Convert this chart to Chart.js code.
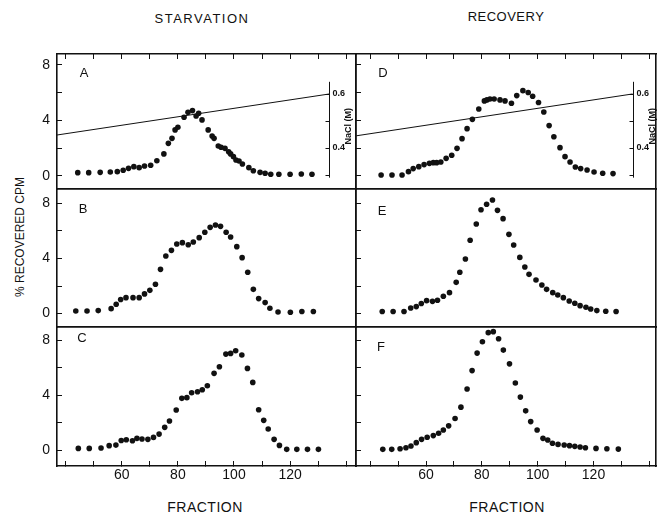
<!DOCTYPE html>
<html>
<head>
<meta charset="utf-8">
<script src="https://cdn.jsdelivr.net/npm/chart.js@4"></script>
<style>
  body { margin: 0; background: #fff; width: 663px; height: 516px; position: relative; overflow: hidden;
         font-family: "Liberation Sans", Arial, sans-serif; color: #111; }
  .lbl { position: absolute; white-space: nowrap; transform: translate(-50%, -50%); }
  canvas { position: absolute; }
</style>
</head>
<body>
<div class="lbl" style="left:202px;top:18px;font-size:13px;letter-spacing:1.5px">STARVATION</div>
<div class="lbl" style="left:506px;top:16px;font-size:13px;letter-spacing:0.5px">RECOVERY</div>
<div class="lbl" style="left:205px;top:507px;font-size:14px;letter-spacing:0.5px">FRACTION</div>
<div class="lbl" style="left:507px;top:507px;font-size:14px;letter-spacing:0.5px">FRACTION</div>
<div class="lbl" style="left:20px;top:237px;font-size:12px;transform:translate(-50%,-50%) rotate(-90deg)">% RECOVERED CPM</div>

<script>
// fractions and % recovered cpm
var fracA = [44.3,48.2,52.3,55.9,58.4,60.5,62.4,64.3,66.2,68.1,70.3,72.5,75.0,76.6,77.9,79.0,80.0,82.2,83.6,85.2,86.5,87.4,88.6,90.8,92.2,92.9,94.4,95.4,96.8,98.1,98.8,99.8,100.7,101.8,103.0,105.3,106.9,109.3,111.1,113.1,116.0,120.0,124.0,127.8];
var cpmA  = [0.24,0.24,0.26,0.29,0.31,0.41,0.55,0.67,0.60,0.72,0.77,1.10,1.59,2.35,2.71,3.32,3.51,4.23,4.59,4.71,4.32,4.52,4.04,3.32,2.88,2.71,2.16,2.07,1.99,1.75,1.59,1.39,1.15,1.08,0.86,0.60,0.38,0.26,0.19,0.12,0.12,0.12,0.14,0.12];

var fracB = [43.6,47.6,51.6,56.2,58.0,59.6,61.5,64.0,66.2,68.1,70.0,72.0,73.8,75.7,77.7,79.6,81.6,83.7,85.5,87.6,89.6,91.5,93.4,95.2,97.2,98.8,101.0,102.9,104.9,106.9,108.8,111.1,112.8,115.7,120.1,124.2,128.3];
var cpmB  = [0.19,0.19,0.22,0.36,0.68,1.02,1.16,1.16,1.16,1.43,1.69,2.13,3.21,4.18,4.59,5.05,5.15,5.00,5.20,5.51,5.90,6.26,6.43,6.33,5.90,5.56,4.86,4.06,3.00,1.76,1.09,0.80,0.39,0.12,0.10,0.15,0.15];

var fracC = [44.5,48.4,52.6,55.5,57.9,59.8,61.6,63.8,65.4,67.2,69.3,71.3,73.3,75.3,77.0,79.4,81.4,83.2,84.9,87.0,88.7,90.5,92.9,94.8,97.1,98.8,100.6,102.8,104.8,106.7,108.8,110.6,112.2,114.3,116.2,118.8,122.4,126.2,130.1];
var cpmC  = [0.12,0.12,0.15,0.32,0.36,0.70,0.75,0.68,0.85,0.80,0.78,0.92,1.16,1.65,2.11,2.91,3.76,3.81,4.17,4.24,4.39,4.68,5.58,6.06,6.98,7.03,7.22,6.91,5.94,4.92,2.93,2.16,1.53,0.78,0.34,0.05,0.05,0.05,0.05];

var fracD = [43.9,47.8,51.4,53.7,55.4,57.4,59.3,61.2,62.6,63.8,65.3,67.2,69.2,71.1,72.9,74.7,76.6,78.9,80.9,81.8,82.9,84.4,86.5,88.3,90.6,92.5,94.7,96.6,98.2,100.3,102.2,104.1,105.8,108.0,109.8,111.6,113.5,115.4,117.7,120.2,123.3,127.0];
var cpmD  = [0.07,0.07,0.07,0.31,0.53,0.67,0.82,0.91,0.96,0.96,1.01,1.27,1.49,1.99,2.69,3.41,4.08,4.83,5.41,5.48,5.55,5.55,5.48,5.41,5.24,5.79,6.15,6.01,5.74,5.29,4.61,3.63,2.83,2.04,1.39,1.01,0.65,0.53,0.43,0.29,0.19,0.17];

var fracE = [44.3,48.2,52.1,54.5,56.5,58.3,60.2,62.3,64.1,66.2,68.4,70.8,72.1,74.1,75.8,78.0,79.7,81.7,83.8,85.6,87.6,89.7,91.4,93.6,95.4,96.9,99.4,101.5,103.2,105.4,107.2,109.2,111.3,113.3,115.2,117.3,119.0,121.2,124.4,128.1];
var cpmE  = [0.15,0.15,0.15,0.41,0.51,0.73,0.94,0.89,0.97,1.26,1.52,2.27,3.00,3.96,5.32,6.50,7.54,7.93,8.24,7.49,6.89,5.75,4.98,4.08,3.38,2.85,2.44,2.08,1.76,1.52,1.35,1.16,0.92,0.75,0.58,0.46,0.34,0.22,0.17,0.15];

var fracF = [44.5,47.7,50.7,52.8,54.6,56.5,58.4,60.4,62.6,64.5,66.2,68.1,70.4,72.5,74.7,76.5,78.3,80.2,82.3,84.1,86.0,87.7,89.9,92.0,93.8,95.7,97.5,99.8,101.9,103.6,105.3,107.3,109.5,111.4,113.3,115.2,117.1,120.9,124.8,128.9];
var cpmF  = [0.05,0.05,0.10,0.17,0.29,0.54,0.78,0.93,1.05,1.22,1.46,1.76,2.29,3.12,4.44,5.78,7.05,7.88,8.54,8.61,8.10,7.27,6.27,4.88,3.85,2.85,2.07,1.46,0.85,0.73,0.49,0.41,0.37,0.32,0.27,0.22,0.17,0.12,0.10,0.07];

// NaCl gradient (M) in panels A and D
var naclFrac = [35, 134];
var naclConc = [0.445, 0.6];
var naclTicks = [0.3, 0.4, 0.5, 0.6];
var naclLabels = [0.4, 0.6];
var naclAxisAt = 134;

// tick labels
var xLabels = [60, 80, 100, 120];
var yLabels = [0, 4, 8];

var INK = '#111';
Chart.defaults.font.family = '"Liberation Sans", Arial, sans-serif';
Chart.defaults.color = INK;

// plot boxes in page pixels
var colX = [[57, 356], [356, 656]];
var rowY = [[54, 189], [189, 327], [327, 466]];
var xRange = [[36.9, 143.5], [34.9, 142.4]];
var yRange = [[-0.94, 8.79], [-0.97, 9.04], [-1.16, 8.95]];

var panels = [
  { letter: 'A', frac: fracA, cpm: cpmA, col: 0, row: 0, dx: 27, dy: 19, nacl: true },
  { letter: 'B', frac: fracB, cpm: cpmB, col: 0, row: 1, dx: 26, dy: 20 },
  { letter: 'C', frac: fracC, cpm: cpmC, col: 0, row: 2, dx: 25, dy: 11 },
  { letter: 'D', frac: fracD, cpm: cpmD, col: 1, row: 0, dx: 27, dy: 19, nacl: true },
  { letter: 'E', frac: fracE, cpm: cpmE, col: 1, row: 1, dx: 26, dy: 22 },
  { letter: 'F', frac: fracF, cpm: cpmF, col: 1, row: 2, dx: 25, dy: 20 }
];

// fixed axis box size so the plot area lands where we want it
function fixSize(size) {
  return function (s) {
    if (s.isHorizontal()) s.height = size; else s.width = size;
    s.paddingTop = s.paddingBottom = s.paddingLeft = s.paddingRight = 0;
  };
}

var decor = {
  id: 'decor',
  afterDatasetsDraw: function (chart, args, o) {
    var ctx = chart.ctx, a = chart.chartArea;
    ctx.save();
    ctx.fillStyle = INK;
    ctx.font = '13px "Liberation Sans", Arial, sans-serif';
    ctx.textAlign = 'center';
    ctx.textBaseline = 'middle';
    ctx.fillText(o.letter, a.left + o.dx, a.top + o.dy);
    if (o.nacl) {
      var xs = chart.scales.x, ys = chart.scales.y2;
      var px = Math.round(xs.getPixelForValue(naclAxisAt)) + 0.5;
      ctx.strokeStyle = INK;
      ctx.lineWidth = 1;
      ctx.beginPath();
      ctx.moveTo(px, ys.getPixelForValue(0.645));
      ctx.lineTo(px, ys.getPixelForValue(0.29));
      ctx.stroke();
      naclTicks.forEach(function (v) {
        var py = Math.round(ys.getPixelForValue(v)) + 0.5;
        ctx.beginPath(); ctx.moveTo(px - 4, py); ctx.lineTo(px, py); ctx.stroke();
      });
      ctx.font = 'bold 9px "Liberation Sans", Arial, sans-serif';
      ctx.textAlign = 'left';
      naclLabels.forEach(function (v) {
        ctx.fillText(v.toFixed(1), px + 3, ys.getPixelForValue(v));
      });
      ctx.translate(px + 19, ys.getPixelForValue(0.48));
      ctx.rotate(-Math.PI / 2);
      ctx.textAlign = 'center';
      ctx.fillText('NaCl (M)', 0, 0);
    }
    ctx.restore();
  }
};

panels.forEach(function (p) {
  var l = colX[p.col][0], r = colX[p.col][1];
  var t = rowY[p.row][0], b = rowY[p.row][1];
  var bottomRow = p.row === 2, topRow = p.row === 0, leftCol = p.col === 0;
  var padL = leftCol ? 57 : 10, padR = 6, padT = 6, padB = bottomRow ? 34 : 6;

  var cv = document.createElement('canvas');
  cv.width = r - l + padL + padR;
  cv.height = b - t + padT + padB;
  cv.style.left = (l - padL) + 'px';
  cv.style.top = (t - padT) + 'px';
  document.body.appendChild(cv);

  var datasets = [{
    data: p.frac.map(function (f, i) { return { x: f, y: p.cpm[i] }; }),
    backgroundColor: INK, borderWidth: 0, pointRadius: 2.8, pointHoverRadius: 2.8
  }];
  if (p.nacl) {
    datasets.push({
      type: 'line', yAxisID: 'y2',
      data: naclFrac.map(function (f, i) { return { x: f, y: naclConc[i] }; }),
      borderColor: INK, borderWidth: 1, pointRadius: 0, tension: 0
    });
  }

  var border = { display: true, color: INK, width: 1.6 };
  var xr = xRange[p.col], yr = yRange[p.row];

  new Chart(cv, {
    type: 'scatter',
    data: { datasets: datasets },
    plugins: [decor],
    options: {
      responsive: false, animation: false, devicePixelRatio: 1,
      layout: { padding: 0 },
      plugins: {
        legend: { display: false }, tooltip: { enabled: false },
        decor: { letter: p.letter, dx: p.dx, dy: p.dy, nacl: !!p.nacl }
      },
      scales: {
        x: {
          type: 'linear', position: 'bottom', min: xr[0], max: xr[1],
          afterFit: fixSize(padB), border: border,
          grid: { drawOnChartArea: false, drawTicks: bottomRow, tickLength: -5, color: INK, lineWidth: 1 },
          ticks: { stepSize: 10, includeBounds: false, autoSkip: false, maxRotation: 0, display: bottomRow,
                   padding: 6, font: { size: 14 },
                   callback: function (v) { return xLabels.indexOf(v) >= 0 ? String(v) : ''; } }
        },
        xTop: {
          type: 'linear', position: 'top', min: xr[0], max: xr[1],
          afterFit: fixSize(padT), border: border,
          grid: { drawOnChartArea: false, drawTicks: topRow, tickLength: -5, color: INK, lineWidth: 1 },
          ticks: { stepSize: 10, includeBounds: false, autoSkip: false, display: false }
        },
        y: {
          type: 'linear', position: 'left', min: yr[0], max: yr[1],
          afterFit: fixSize(padL), border: border,
          grid: { drawOnChartArea: false, drawTicks: true, tickLength: -5, color: INK, lineWidth: 1 },
          ticks: { stepSize: 2, includeBounds: false, autoSkip: false, display: leftCol, padding: 12,
                   font: { size: 14 },
                   callback: function (v) { return yLabels.indexOf(v) >= 0 ? String(v) : ''; } }
        },
        yRight: {
          type: 'linear', position: 'right', min: yr[0], max: yr[1],
          afterFit: fixSize(padR), border: border,
          grid: { drawOnChartArea: false, drawTicks: false },
          ticks: { display: false }
        },
        y2: { type: 'linear', display: false, min: 0.248, max: 0.748 }
      }
    }
  });
});
</script>
</body>
</html>
